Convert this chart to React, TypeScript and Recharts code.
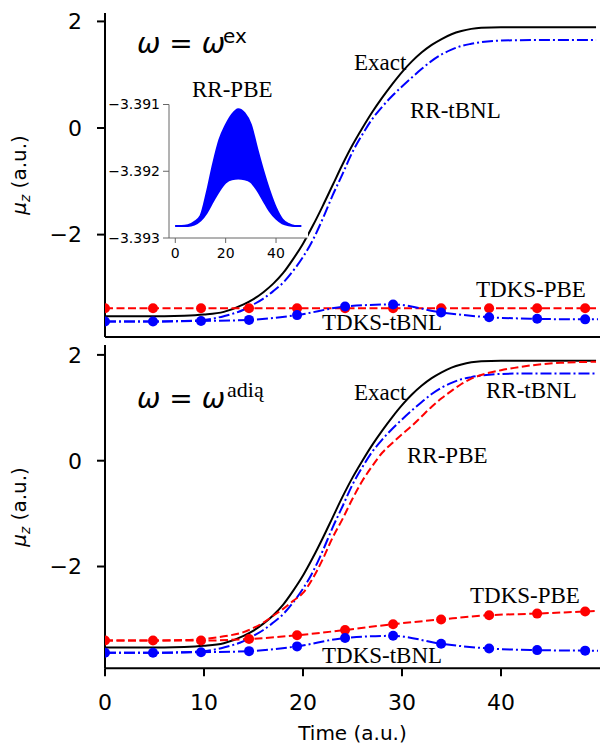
import React from "react";
import { LineChart, Line, XAxis, YAxis, AreaChart, Area } from "recharts";

// time grid of the smooth RR / exact curves (a.u.)
const curveTime = [0, 4, 8, 10, 12, 14, 15, 16, 17, 18, 19, 20, 21, 22, 23, 24, 25, 26, 27, 28, 29, 30, 31, 32, 33, 34, 35, 36, 37, 38, 40, 43, 46, 49.6];
const exactMu = [-3.53, -3.53, -3.52, -3.5, -3.45, -3.31, -3.21, -3.08, -2.92, -2.72, -2.46, -2.17, -1.83, -1.46, -1.07, -0.68, -0.32, 0.0, 0.3, 0.57, 0.82, 1.05, 1.25, 1.42, 1.56, 1.67, 1.76, 1.82, 1.86, 1.88, 1.89, 1.89, 1.89, 1.89];
const rrTbnlMu = [-3.63, -3.63, -3.62, -3.6, -3.53, -3.41, -3.31, -3.2, -3.06, -2.9, -2.68, -2.42, -2.1, -1.7, -1.26, -0.86, -0.45, -0.12, 0.17, 0.4, 0.6, 0.78, 0.95, 1.11, 1.26, 1.38, 1.47, 1.54, 1.58, 1.61, 1.64, 1.65, 1.65, 1.65];
const rrPbeMu = [-3.4, -3.4, -3.39, -3.37, -3.32, -3.24, -3.16, -3.06, -2.93, -2.8, -2.65, -2.5, -2.22, -1.86, -1.45, -1.1, -0.72, -0.38, -0.1, 0.15, 0.33, 0.5, 0.66, 0.84, 1.02, 1.18, 1.32, 1.45, 1.55, 1.62, 1.71, 1.8, 1.85, 1.87];

// TDKS runs, marker every ~4.85 a.u.; the last point only closes the line
const tdksTime = [0, 4.85, 9.7, 14.55, 19.4, 24.25, 29.1, 33.95, 38.8, 43.65, 48.5, 49.8];
const tdksPbeExMu = [-3.38, -3.38, -3.38, -3.38, -3.38, -3.38, -3.38, -3.38, -3.38, -3.38, -3.38, -3.38];
const tdksTbnlMu = [-3.63, -3.63, -3.62, -3.6, -3.51, -3.35, -3.31, -3.46, -3.55, -3.58, -3.59, -3.59];
const tdksPbeAdiaMu = [-3.4, -3.4, -3.4, -3.37, -3.3, -3.2, -3.09, -3.0, -2.92, -2.89, -2.85, -2.84];

// inset: RR-PBE dipole, fast oscillation drawn as its envelope
const insetTime = [0, 2.5, 5, 7.5, 10, 12.5, 15, 17.5, 20, 22.5, 25, 27.5, 30, 32.5, 35, 37.5, 40, 42.5, 45, 47.5, 50];
const insetLow = [-3.39282, -3.39282, -3.39282, -3.3928, -3.39274, -3.39262, -3.39245, -3.39229, -3.39217, -3.39212, -3.39211, -3.39212, -3.39216, -3.39228, -3.39244, -3.3926, -3.39271, -3.39278, -3.39281, -3.39282, -3.39282];
const insetHigh = [-3.39282, -3.39282, -3.39281, -3.39276, -3.39267, -3.39232, -3.39189, -3.39153, -3.39131, -3.39115, -3.39107, -3.39113, -3.3913, -3.39166, -3.392, -3.3923, -3.39255, -3.39272, -3.39279, -3.39282, -3.39282];

const timeTicks = [0, 10, 20, 30, 40];
const muTicks = [-2, 0, 2];
const insetTimeTicks = [0, 20, 40];
const insetMuTicks = [-3.393, -3.392, -3.391];

const W = 601;
const H = 746;
const BLUE = "#0000ff";
const RED = "#ff0000";
const DASH = "8 3.5";
const DASHDOT = "11 3 2 3";

const curve = (ys: number[]) => curveTime.map((t, i) => ({ t, mu: ys[i] }));
const tdks = (ys: number[]) => tdksTime.map((t, i) => ({ t, mu: ys[i], marked: i < tdksTime.length - 1 }));
const band = insetTime.map((t, i) => ({ t, band: [insetLow[i], insetHigh[i]] }));

const minus = (v: number) => (v < 0 ? "\u2212" : "") + Math.abs(v);
const layer: React.CSSProperties = { position: "absolute", left: 0, top: 0 };
const frame = { stroke: "#000", strokeWidth: 2 };
const tickFont = { fontSize: 22, fontFamily: "DejaVu Sans", fill: "#000" };
const serif = { fontFamily: "Liberation Serif", fontSize: 23, fill: "#000" };
const sans = { fontFamily: "DejaVu Sans", fill: "#000" };

const markerDot = (color: string) => (p: any) =>
  p.payload && p.payload.marked ? (
    <circle key={p.index} cx={p.cx} cy={p.cy} r={5} fill={color} />
  ) : (
    <g key={p.index} />
  );

const MainPanel = ({ plotTop, plotBottom, yDomain, showXLabels, children }: any) => {
  const xAxisHeight = showXLabels ? H - plotBottom : 8;
  return (
    <div style={layer}>
      <LineChart
        width={W}
        height={H}
        margin={{ top: plotTop, right: 1, left: 0, bottom: H - plotBottom - xAxisHeight }}
      >
        <XAxis
          type="number"
          dataKey="t"
          domain={[0, 50]}
          ticks={timeTicks}
          allowDataOverflow
          height={xAxisHeight}
          tickSize={8}
          tickMargin={18}
          tick={showXLabels ? tickFont : false}
          axisLine={frame}
          tickLine={frame}
        />
        <XAxis xAxisId="frame" orientation="top" type="number" domain={[0, 50]} height={0} tick={false} tickLine={false} axisLine={frame} />
        <YAxis
          type="number"
          domain={yDomain}
          ticks={muTicks}
          allowDataOverflow
          width={105}
          tickSize={8}
          tickMargin={15}
          tick={tickFont}
          tickFormatter={minus}
          axisLine={frame}
          tickLine={frame}
        />
        <YAxis yAxisId="frame" orientation="right" type="number" domain={yDomain} width={0} tick={false} tickLine={false} axisLine={frame} />
        {children}
      </LineChart>
    </div>
  );
};

const MuLabel = ({ cy }: { cy: number }) => (
  <text x={25.5} y={cy} transform={`rotate(-90 25.5 ${cy})`} textAnchor="middle" fontSize={20} {...sans}>
    <tspan fontStyle="italic">μ</tspan>
    <tspan fontStyle="italic" fontSize={14} dy={4}>z</tspan>
    <tspan dy={-4}> (a.u.)</tspan>
  </text>
);

export default function App() {
  return (
    <div style={{ position: "absolute", left: 0, top: 0, width: W, height: H, background: "#fff" }}>
      <MainPanel plotTop={13} plotBottom={337} yDomain={[-3.921, 2.158]} showXLabels={false}>
        <Line data={curve(exactMu)} dataKey="mu" type="monotone" stroke="#000" strokeWidth={2} dot={false} activeDot={false} isAnimationActive={false} />
        <Line data={curve(rrTbnlMu)} dataKey="mu" type="monotone" stroke={BLUE} strokeWidth={2} strokeDasharray={DASHDOT} dot={false} activeDot={false} isAnimationActive={false} />
        <Line data={tdks(tdksPbeExMu)} dataKey="mu" type="monotone" stroke={RED} strokeWidth={2} strokeDasharray={DASH} dot={markerDot(RED)} activeDot={false} isAnimationActive={false} />
        <Line data={tdks(tdksTbnlMu)} dataKey="mu" type="monotone" stroke={BLUE} strokeWidth={2} strokeDasharray={DASHDOT} dot={markerDot(BLUE)} activeDot={false} isAnimationActive={false} />
      </MainPanel>

      <MainPanel plotTop={345} plotBottom={668.3} yDomain={[-3.924, 2.187]} showXLabels>
        <Line data={curve(exactMu)} dataKey="mu" type="monotone" stroke="#000" strokeWidth={2} dot={false} activeDot={false} isAnimationActive={false} />
        <Line data={curve(rrTbnlMu)} dataKey="mu" type="monotone" stroke={BLUE} strokeWidth={2} strokeDasharray={DASHDOT} dot={false} activeDot={false} isAnimationActive={false} />
        <Line data={curve(rrPbeMu)} dataKey="mu" type="monotone" stroke={RED} strokeWidth={2} strokeDasharray={DASH} dot={false} activeDot={false} isAnimationActive={false} />
        <Line data={tdks(tdksPbeAdiaMu)} dataKey="mu" type="monotone" stroke={RED} strokeWidth={2} strokeDasharray={DASH} dot={markerDot(RED)} activeDot={false} isAnimationActive={false} />
        <Line data={tdks(tdksTbnlMu)} dataKey="mu" type="monotone" stroke={BLUE} strokeWidth={2} strokeDasharray={DASHDOT} dot={markerDot(BLUE)} activeDot={false} isAnimationActive={false} />
      </MainPanel>

      {/* inset background */}
      <div style={{ position: "absolute", left: 169, top: 104.5, width: 138.5, height: 133.5, background: "#fff" }} />
      <div style={layer}>
        <AreaChart data={band} width={W} height={H} margin={{ top: 104.5, right: W - 307.5, left: 0, bottom: H - 238 - 30 }}>
          <XAxis
            type="number"
            dataKey="t"
            domain={[-2.5, 52.5]}
            ticks={insetTimeTicks}
            height={30}
            tickSize={5}
            tickMargin={5}
            tick={{ fontSize: 14, fontFamily: "DejaVu Sans", fill: "#000" }}
            axisLine={{ stroke: "#666", strokeWidth: 1 }}
            tickLine={{ stroke: "#666", strokeWidth: 1 }}
          />
          <XAxis xAxisId="frame" orientation="top" type="number" domain={[-2.5, 52.5]} height={0} tick={false} tickLine={false} axisLine={{ stroke: "#666", strokeWidth: 1 }} />
          <YAxis
            type="number"
            domain={[-3.393, -3.391]}
            ticks={insetMuTicks}
            allowDataOverflow
            width={169}
            tickSize={6}
            tickMargin={3}
            tick={{ fontSize: 14, fontFamily: "DejaVu Sans", fill: "#000" }}
            tickFormatter={(v: number) => "\u2212" + Math.abs(v).toFixed(3)}
            axisLine={{ stroke: "#666", strokeWidth: 1 }}
            tickLine={{ stroke: "#666", strokeWidth: 1 }}
          />
          <YAxis yAxisId="frame" orientation="right" type="number" domain={[-3.393, -3.391]} width={0} tick={false} tickLine={false} axisLine={{ stroke: "#666", strokeWidth: 1 }} />
          <Area dataKey="band" type="monotone" stroke={BLUE} strokeWidth={2} fill={BLUE} fillOpacity={1} dot={false} activeDot={false} isAnimationActive={false} />
        </AreaChart>
      </div>

      <svg width={W} height={H} style={layer}>
        {/* top panel */}
        <text x={137} y={53} fontSize={28} {...sans}>
          <tspan fontStyle="italic">ω</tspan> = <tspan fontStyle="italic">ω</tspan>
        </text>
        <text x={223} y={43} fontSize={20} {...sans}>ex</text>
        <text x={192} y={97} {...serif}>RR-PBE</text>
        <text x={354} y={70} {...serif}>Exact</text>
        <text x={410} y={118} {...serif}>RR-tBNL</text>
        <text x={476} y={297} {...serif}>TDKS-PBE</text>
        <text x={322} y={330} {...serif}>TDKS-tBNL</text>
        <MuLabel cy={175} />

        {/* bottom panel */}
        <text x={137} y={408} fontSize={28} {...sans}>
          <tspan fontStyle="italic">ω</tspan> = <tspan fontStyle="italic">ω</tspan>
        </text>
        <text x={227} y={397} fontFamily="Liberation Serif" fontSize={22} fill="#000">adią</text>
        <text x={354} y={400} {...serif}>Exact</text>
        <text x={486} y={398} {...serif}>RR-tBNL</text>
        <text x={407} y={463} {...serif}>RR-PBE</text>
        <text x={470} y={603} {...serif}>TDKS-PBE</text>
        <text x={322} y={663} {...serif}>TDKS-tBNL</text>
        <MuLabel cy={507} />

        <text x={352.5} y={740} textAnchor="middle" fontSize={20} {...sans}>Time (a.u.)</text>
      </svg>
    </div>
  );
}
